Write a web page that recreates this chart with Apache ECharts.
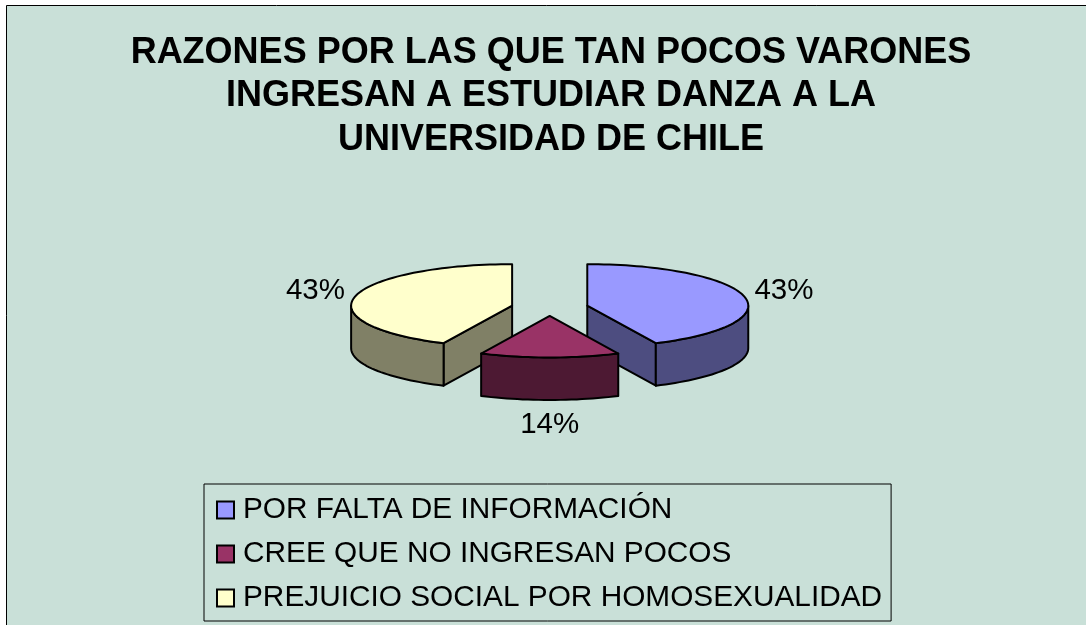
<!DOCTYPE html>
<html><head><meta charset="utf-8">
<style>html,body{margin:0;padding:0;background:#fff}#c{width:1086px;height:625px}</style>
<script src="https://cdn.jsdelivr.net/npm/echarts@6/dist/echarts.min.js"></script>
</head><body><div id="c"></div>
<script>
const titleLines = ['RAZONES POR LAS QUE TAN POCOS VARONES','INGRESAN A ESTUDIAR DANZA A LA','UNIVERSIDAD DE CHILE'];
const categories = ['POR FALTA DE INFORMACIÓN','CREE QUE NO INGRESAN POCOS','PREJUICIO SOCIAL POR HOMOSEXUALIDAD'];
const values = [43,14,43];
const topColors = ['#9999FF','#993366','#FFFFCC'];
const sideColors = ['#4D4D80','#4D1933','#808066'];
const layers = [1,3,2];

const FONT = '"Liberation Sans", Arial, sans-serif';
const P = {cx:549.7, cy:307.5, rx:161, ry:41.5, depth:42.5, explode:38.5, explodeFlat:0.22};
const total = values.reduce((a,b)=>a+b,0);
const rad = d => d*Math.PI/180;

function slice(i){
  const before = values.slice(0,i).reduce((a,b)=>a+b,0);
  const s = before/total*360, e = (before+values[i])/total*360, m=(s+e)/2;
  const ax = P.cx + P.explode*Math.sin(rad(m));
  const ay = P.cy - P.explode*Math.cos(rad(m))*P.explodeFlat;
  const pt = (t,d=0)=>[ax+P.rx*Math.sin(rad(t)), ay-P.ry*Math.cos(rad(t))+d];
  return {s,e,m,ax,ay,pt};
}
function arc(pt,a,b,d){
  const n=Math.max(2,Math.ceil(Math.abs(b-a)/2)), out=[];
  for(let k=0;k<=n;k++) out.push(pt(a+(b-a)*k/n,d));
  return out;
}
function renderSlice(i){
  return function(params, api){
    const g = slice(i), {s,e,m,ax,ay,pt}=g, kids=[];
    const line={stroke:'#000',lineWidth:2,lineJoin:'round'};
    const side=Object.assign({fill:sideColors[i]},line);
    const top=Object.assign({fill:topColors[i]},line);
    if(Math.sin(rad(e))>0.01) kids.push({type:'polygon',shape:{points:[[ax,ay],pt(e),pt(e,P.depth),[ax,ay+P.depth]]},style:side});
    if(Math.sin(rad(s))<-0.01) kids.push({type:'polygon',shape:{points:[[ax,ay],pt(s),pt(s,P.depth),[ax,ay+P.depth]]},style:side});
    const a=Math.max(s,90), b=Math.min(e,270);
    if(b>a) kids.push({type:'polygon',shape:{points:arc(pt,a,b,0).concat(arc(pt,b,a,P.depth))},style:side});
    kids.push({type:'polygon',shape:{points:[[ax,ay]].concat(arc(pt,s,e,0))},style:top});
    const o=pt(m), c=Math.cos(rad(m));
    kids.push({type:'text',silent:true,style:{
      x:o[0]+Math.sin(rad(m))*40.5, y:o[1]-c*25+(c<0?P.depth:0),
      text:Math.round(values[i]/total*100)+'%',
      fill:'#000',font:'29.5px '+FONT,align:'center',verticalAlign:'middle'}});
    return {type:'group',children:kids};
  };
}
const chart = echarts.init(document.getElementById('c'),null,{renderer:'canvas'});
chart.setOption({
  animation:false,
  backgroundColor:'#fff',
  graphic:[{type:'rect',z:-10,silent:true,shape:{x:6.5,y:5.5,width:1300,height:900},
    style:{fill:'#C9E0D8',stroke:'#000',lineWidth:1}}],
  title:{text:titleLines.join('\n'),left:546,top:26,textAlign:'center',
    textStyle:{fontFamily:FONT,fontWeight:'bold',fontSize:36,lineHeight:43.5,color:'#000'}},
  legend:{orient:'vertical',left:204,top:484,height:300,width:700,padding:[11,9,8,12],itemGap:14,itemWidth:17,itemHeight:17,
    icon:'rect',borderColor:'#000',borderWidth:1,selectedMode:false,data:categories,
    textStyle:{fontFamily:FONT,fontSize:29.8,color:'#000',padding:[0,0,0,4]}},
  series:categories.map((name,i)=>({
    type:'custom',name,coordinateSystem:'none',z:layers[i],silent:true,
    itemStyle:{color:topColors[i],borderColor:'#000',borderWidth:2},
    renderItem:renderSlice(i),
    data:[{name,value:values[i]}]
  }))
});
</script></body></html>
